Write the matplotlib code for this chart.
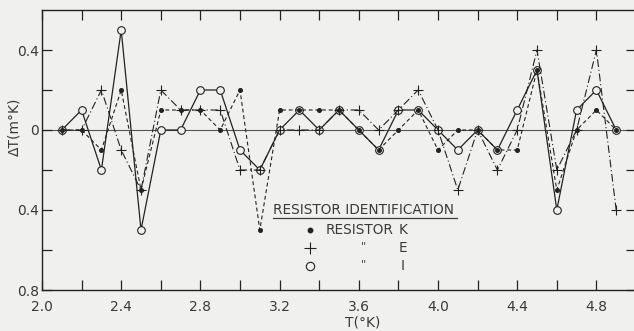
import numpy as np
import matplotlib
matplotlib.use("Agg")
import matplotlib.pyplot as plt

# temperature (deg K) and deviations (m deg K)
temp = [2.1, 2.2, 2.3, 2.4, 2.5, 2.6, 2.7, 2.8, 2.9, 3.0,
        3.1, 3.2, 3.3, 3.4, 3.5, 3.6, 3.7, 3.8, 3.9, 4.0,
        4.1, 4.2, 4.3, 4.4, 4.5, 4.6, 4.7, 4.8, 4.9]
dev_k = [0, 0, -0.1, 0.2, -0.3, 0.1, 0.1, 0.1, 0, 0.2,
         -0.5, 0.1, 0.1, 0.1, 0.1, 0, -0.1, 0, 0.1, -0.1,
         0, 0, -0.1, -0.1, 0.3, -0.3, 0, 0.1, 0]
dev_e = [0, 0, 0.2, -0.1, -0.3, 0.2, 0.1, 0.1, 0.1, -0.2,
         -0.2, 0, 0, 0, 0.1, 0.1, 0, 0.1, 0.2, 0,
         -0.3, 0, -0.2, 0, 0.4, -0.2, 0, 0.4, -0.4]
dev_i = [0, 0.1, -0.2, 0.5, -0.5, 0, 0, 0.2, 0.2, -0.1,
         -0.2, 0, 0.1, 0, 0.1, 0, -0.1, 0.1, 0.1, 0,
         -0.1, 0, -0.1, 0.1, 0.3, -0.4, 0.1, 0.2, 0]

yticks = [0.4, 0, -0.4, -0.8]
ylabels = ["0.4", "0", "0.4", "0.8"]
xticks = [2.0, 2.4, 2.8, 3.2, 3.6, 4.0, 4.4, 4.8]

ink = "#222222"
txt = "#3a3a3a"
bg = "#f0f0ee"
plt.rcParams["font.family"] = "DejaVu Sans"

fig = plt.figure(figsize=(6.34, 3.31), dpi=100, facecolor=bg)
W, H = 634.0, 331.0
ax = fig.add_axes([42 / W, 41 / H, 594 / W, 280 / H])
ax.set_facecolor(bg)

ax.axhline(0, color="#555555", lw=0.8, zorder=1)

ax.plot(temp, dev_i, color=ink, lw=0.9, ls="-", marker="o", ms=5.5,
        mfc=bg, mec=ink, mew=0.8, zorder=3)
ax.plot(temp, dev_e, color=ink, lw=0.8, ls=(0, (7, 2.5, 1, 2.5)), marker="+",
        ms=7, mew=0.8, zorder=4)
ax.plot(temp, dev_k, color=ink, lw=0.8, ls=(0, (3.5, 2.5)), marker="o", ms=2.6,
        mfc=ink, mec=ink, zorder=5)

ax.set_xlim(2.0, 5.0)
ax.set_ylim(-0.8, 0.6)
ax.set_xticks(xticks)
ax.set_xticks(np.arange(2.2, 5.0, 0.4), minor=True)
ax.set_yticks(yticks)
ax.set_yticklabels(ylabels)
ax.set_yticks([0.2, -0.2, -0.6], minor=True)
for which in ("major", "minor"):
    ax.tick_params(which=which, direction="in", length=7, width=0.9,
                   top=True, right=True, color=ink)
ax.tick_params(axis="both", labelsize=10, labelcolor=txt)
ax.tick_params(axis="x", pad=7)
ax.tick_params(axis="y", pad=2)
for s in ax.spines.values():
    s.set_color(ink)
    s.set_linewidth(1.0)

fig.text(14 / W, 1 - 127 / H, "\u0394T(m\u00b0K)", rotation=90, ha="center",
         va="center", fontsize=10, color=txt)
fig.text(363 / W, 1 - 323 / H, "T(\u00b0K)", ha="center", va="center",
         fontsize=10, color=txt)

# hand-lettered legend block
fig.text(273 / W, 1 - 210 / H, "RESISTOR IDENTIFICATION", ha="left", va="center",
         fontsize=9.8, color=txt)
fig.add_artist(plt.Line2D([273 / W, 457 / W], [1 - 218 / H, 1 - 218 / H],
                          color=txt, lw=0.9))
rows = [("dot", "RESISTOR", "K", 230), ("plus", '"', "E", 248),
        ("ring", '"', "I", 266)]
for mk, name, tag, yp in rows:
    yy = 1 - yp / H
    if mk == "plus":
        fig.add_artist(plt.Line2D([310 / W], [yy], marker="+", ms=8, mew=0.8,
                                  color=ink))
    elif mk == "dot":
        fig.add_artist(plt.Line2D([310 / W], [yy], marker="o", ms=3.2, mfc=ink,
                                  mec=ink))
    else:
        fig.add_artist(plt.Line2D([310 / W], [yy], marker="o", ms=6, mfc=bg,
                                  mec=ink, mew=0.8))
    if name == "RESISTOR":
        fig.text(326 / W, yy, name, ha="left", va="center", fontsize=9.8,
                 color=txt)
    else:
        fig.text(364 / W, yy + 2 / H, name, ha="center", va="center", fontsize=8,
                 color=txt)
    fig.text(403 / W, yy, tag, ha="center", va="center", fontsize=9.8,
             color=txt)

fig.savefig("out.png", dpi=100, facecolor=bg)
